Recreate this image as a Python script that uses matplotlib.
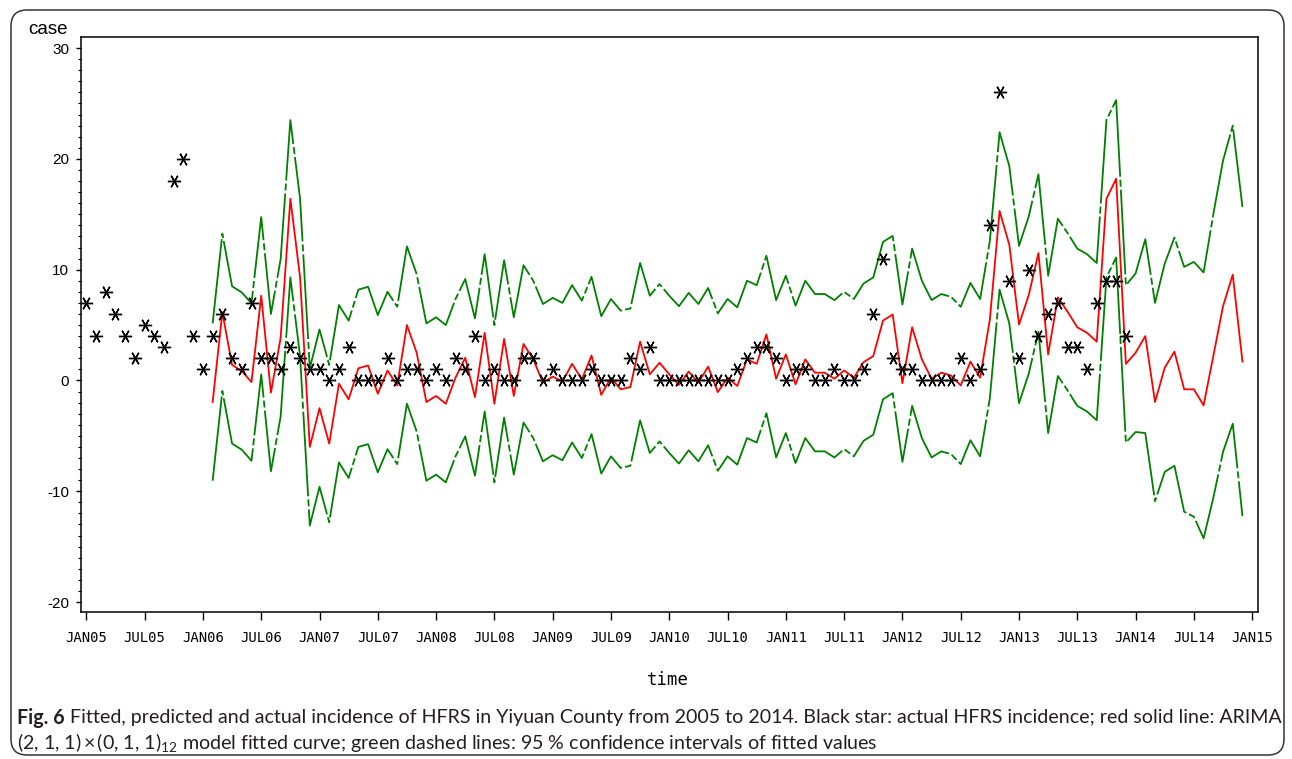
import numpy as np
import matplotlib
matplotlib.use('Agg')
import matplotlib.pyplot as plt
from matplotlib.patches import FancyBboxPatch

plt.rcParams['lines.scale_dashes'] = False
plt.rcParams['mathtext.fontset'] = 'custom'
plt.rcParams['mathtext.rm'] = 'Lato'
plt.rcParams['mathtext.it'] = 'Lato'

W, H = 1292, 759

# actual monthly HFRS cases, JAN05 .. DEC13
actual = [7, 4, 8, 6, 4, 2, 5, 4, 3, 18, 20, 4,
          1, 4, 6, 2, 1, 7, 2, 2, 1, 3, 2, 1,
          1, 0, 1, 3, 0, 0, 0, 2, 0, 1, 1, 0,
          1, 0, 2, 1, 4, 0, 1, 0, 0, 2, 2, 0,
          1, 0, 0, 0, 1, 0, 0, 0, 2, 1, 3, 0,
          0, 0, 0, 0, 0, 0, 0, 1, 2, 3, 3, 2,
          0, 1, 1, 0, 0, 1, 0, 0, 1, 6, 11, 2,
          1, 1, 0, 0, 0, 0, 2, 0, 1, 14, 26, 9,
          2, 10, 4, 6, 7, 3, 3, 1, 7, 9, 9, 4]

# ARIMA fitted / forecast values, FEB06 .. DEC14
fitted = [-1.95, 6.15, 1.4, 0.85, -0.15, 7.65, -1.1, 3.85, 16.4, 9.3, -6.0,
          -2.5, -5.7, -0.3, -1.7, 1.1, 1.35, -1.2, 0.9, -0.45, 5.0, 2.5, -1.95,
          -1.4, -2.1, 0.25, 2.05, -1.5, 4.3, -2.1, 3.75, -1.4, 3.3, 1.9, -0.2,
          0.35, -0.1, 1.5, 0.1, 2.25, -1.3, 0.25, -0.8, -0.6, 3.5, 0.55, 1.6,
          0.55, -0.4, 0.8, -0.2, 1.25, -1.05, 0.25, -0.5, 1.9, 1.5, 4.15, 0.15,
          2.35, -0.35, 1.9, 0.7, 0.7, 0.15, 0.9, 0.25, 1.65, 2.2, 5.4, 5.95,
          -0.25, 4.8, 1.9, 0.15, 0.7, 0.45, -0.45, 1.7, 0.25, 5.5, 15.3, 12.25,
          5.05, 7.7, 11.5, 2.35, 7.5, 6.2, 4.8, 4.3, 3.5, 16.4, 18.2, 1.5,
          2.5, 4.0, -1.95, 1.15, 2.6, -0.8, -0.8, -2.25, 2.2, 6.7, 9.55, 1.7]

upper = [5.15, 13.25, 8.5, 7.95, 6.95, 14.75, 6.0, 10.95, 23.5, 16.4, 1.1,
         4.6, 1.4, 6.8, 5.4, 8.2, 8.45, 5.9, 8.0, 6.65, 12.1, 9.6, 5.15,
         5.7, 5.0, 7.35, 9.15, 5.6, 11.4, 5.0, 10.85, 5.7, 10.4, 9.0, 6.9,
         7.45, 7.0, 8.6, 7.2, 9.35, 5.8, 7.35, 6.3, 6.5, 10.6, 7.65, 8.7,
         7.65, 6.7, 7.9, 6.9, 8.35, 6.05, 7.35, 6.6, 9.0, 8.6, 11.25, 7.25,
         9.45, 6.75, 9.0, 7.8, 7.8, 7.25, 8.0, 7.35, 8.75, 9.3, 12.5, 13.05,
         6.85, 11.9, 9.0, 7.25, 7.8, 7.55, 6.65, 8.8, 7.35, 12.6, 22.4, 19.35,
         12.15, 14.8, 18.6, 9.45, 14.6, 13.3, 11.9, 11.4, 10.6, 23.5, 25.3, 8.6,
         9.65, 12.75, 7.0, 10.55, 12.9, 10.25, 10.7, 9.75, 15.0, 19.85, 23.0, 15.65]

lower = [-9.05, -0.95, -5.7, -6.25, -7.25, 0.55, -8.2, -3.25, 9.3, 2.2, -13.1,
         -9.6, -12.8, -7.4, -8.8, -6.0, -5.75, -8.3, -6.2, -7.55, -2.1, -4.6, -9.05,
         -8.5, -9.2, -6.85, -5.05, -8.6, -2.8, -9.2, -3.35, -8.5, -3.8, -5.2, -7.3,
         -6.75, -7.2, -5.6, -7.0, -4.85, -8.4, -6.85, -7.9, -7.7, -3.6, -6.55, -5.5,
         -6.55, -7.5, -6.3, -7.3, -5.85, -8.15, -6.85, -7.6, -5.2, -5.6, -2.95, -6.95,
         -4.75, -7.45, -5.2, -6.4, -6.4, -6.95, -6.2, -6.85, -5.45, -4.9, -1.7, -1.15,
         -7.35, -2.3, -5.2, -6.95, -6.4, -6.65, -7.55, -5.4, -6.85, -1.6, 8.2, 5.15,
         -2.05, 0.6, 4.4, -4.75, 0.4, -0.9, -2.3, -2.8, -3.6, 9.3, 11.1, -5.6,
         -4.65, -4.75, -10.9, -8.25, -7.7, -11.85, -12.3, -14.25, -10.6, -6.45, -3.9, -12.25]

tick_labels = ['JAN05', 'JUL05', 'JAN06', 'JUL06', 'JAN07', 'JUL07', 'JAN08',
               'JUL08', 'JAN09', 'JUL09', 'JAN10', 'JUL10', 'JAN11', 'JUL11',
               'JAN12', 'JUL12', 'JAN13', 'JUL13', 'JAN14', 'JUL14', 'JAN15']

fit_start = 13  # FEB06
x_act = np.arange(len(actual))
x_fit = np.arange(fit_start, fit_start + len(fitted))

fig = plt.figure(figsize=(W / 100, H / 100), dpi=100)
ax = fig.add_axes([81 / W, 1 - 612 / H, (1258 - 81) / W, (612 - 37) / H])

ci_style = (0, (61, 2.2, 5, 2.2))
ax.plot(x_fit, upper, color='green', lw=1.3, linestyle=ci_style)
ax.plot(x_fit, lower, color='green', lw=1.3, linestyle=ci_style)
ax.plot(x_fit, fitted, color='red', lw=1.3)
ax.plot(x_act, actual, linestyle='none', marker=(6, 2, 90), ms=9.5, mew=1.0,
        color='black')

ax.set_xlim(-0.55, 120.6)
ax.set_ylim(-20.9, 31.0)

ax.set_xticks(np.arange(0, 121, 6))
ax.set_xticklabels(tick_labels, family='DejaVu Sans Mono', fontsize=10)
ax.set_yticks([-20, -10, 0, 10, 20, 30])
ax.set_yticklabels(['-20', '-10', '0', '10', '20', '30'],
                   family='Liberation Sans', fontsize=11)
ax.set_yticks(np.arange(-20, 31, 1), minor=True)
ax.tick_params(axis='x', length=6, width=1, pad=8, direction='out')
ax.tick_params(axis='y', which='major', length=3.5, width=1, pad=5, direction='out')
ax.tick_params(axis='y', which='minor', length=2, width=0.8, direction='out')
for sp in ax.spines.values():
    sp.set_linewidth(1.1)

fig.text(48 / W, 1 - 30 / H, 'case', ha='center', va='center',
         family='Liberation Sans', fontsize=13.5)
fig.text(668 / W, 1 - 680 / H, 'time', ha='center', va='center',
         family='DejaVu Sans Mono', fontsize=12.5)

# caption, sized so the first line runs from x=17 to about x=1282
cap_col = '#231f20'
line1 = ('Fitted, predicted and actual incidence of HFRS in Yiyuan County from 2005 '
         'to 2014. Black star: actual HFRS incidence; red solid line: ARIMA')
line2 = ('(2, 1, 1)\u2009\u00d7\u2009(0, 1, 1)$_{12}$ model fitted curve; green dashed lines: '
         '95 % confidence intervals of fitted values')

def draw_caption(size):
    a = fig.text(17 / W, 1 - 718 / H, 'Fig. 6', family='Lato', fontweight='bold',
                 fontsize=size, va='center', color=cap_col)
    fig.canvas.draw()
    bb = a.get_window_extent()
    b = fig.text((bb.x1 + 5) / W, 1 - 718 / H, line1, family='Lato', fontsize=size,
                 va='center', color=cap_col)
    c = fig.text(17 / W, 1 - 743 / H, line2, family='Lato', fontsize=size,
                 va='center', color=cap_col)
    fig.canvas.draw()
    return a, b, c

parts = draw_caption(12.6)
end = parts[1].get_window_extent().x1
for p in parts:
    p.remove()
draw_caption(12.6 * (1282 - 17) / (end - 17))

border = FancyBboxPatch((11, 4), 1273, 745, boxstyle='round,pad=0,rounding_size=16',
                        transform=None, fill=False, edgecolor='#333333', lw=1.1)
fig.add_artist(border)

fig.savefig('out.png', dpi=100)
